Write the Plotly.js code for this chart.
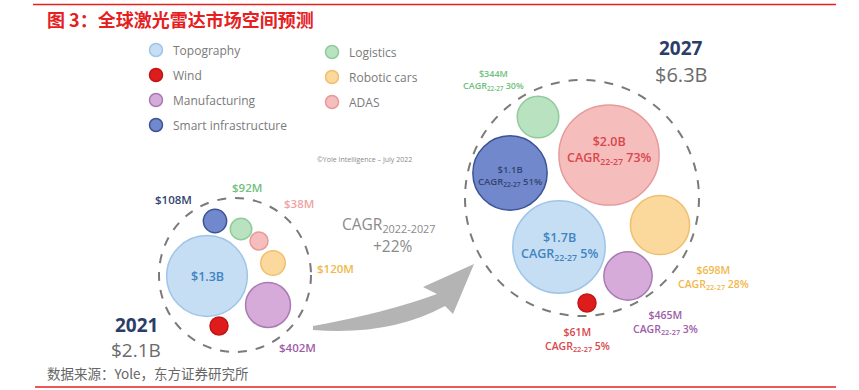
<!DOCTYPE html>
<html>
<head>
<meta charset="utf-8">
<script src="https://cdn.plot.ly/plotly-3.0.1.min.js"></script>
<style>html,body{margin:0;padding:0;background:#fff;}#chart{width:859px;height:390px;}</style>
</head>
<body>
<div id="chart"></div>
<script>
// ---- data ----
const categories = ['Topography','Wind','Manufacturing','Smart infrastructure','Logistics','Robotic cars','ADAS'];
const value2021 = [1300, 45, 402, 108, 92, 120, 38];      // $M (Wind not labelled, estimated)
const value2027 = [1700, 61, 465, 1100, 344, 698, 2000];  // $M
const cagr2227  = [5, 5, 3, 51, 30, 28, 73];               // %
const label2021Shown = [true, false, true, true, true, true, true];
const years = ['2021', '2027'];
const totalB = [2.1, 6.3];
const marketCagr = 22;
const cagrPeriod = '2022-2027';

// ---- layout / style (pixel coordinates) ----
const fillCol   = ['#c5def3','#de1c1c','#d6abd9','#7189cc','#b9e2c0','#fbd89c','#f6bdbd'];
const borderCol = ['#9fc5e8','#c21515','#a97bb3','#3b5397','#90cb9b','#f0bf70','#e69b9b'];
const textCol2021 = ['#3f84c1','#d9474b','#9d5ea9','#34446f','#71c07c','#f2b74a','#f0a3a3'];
const textCol2027 = ['#3f84c1','#d9474b','#9d5ea9','#34446f','#71c07c','#f2b74a','#d9474b'];
const pos2021x = [207, 219, 268, 215, 241, 273, 259];
const pos2021y = [276, 326, 305, 221, 229, 263, 241];
const pos2027x = [559, 587, 628, 510, 538, 660, 609];
const pos2027y = [247, 303, 276, 173, 117, 225, 155];
const lab2021x = [207, 0, 297, 173, 247, 335, 299];
const lab2021y = [276, 0, 347, 199, 187, 268, 203];
const lab2027x = [559, 577, 665, 510, 493, 713, 609];
const lab2027y = [246, 339, 322, 176, 80, 277, 150];
const lab2027size = [12.5, 10.5, 10.5, 9.5, 9, 10.5, 12.5];
const legX = [156, 156, 156, 156, 332, 332, 332];
const legY = [50, 75, 100, 125, 52, 77, 102];

const K = 1.12;
const diam = v => Math.max(18, 2 * K * Math.sqrt(v));
const fmt = v => v >= 1000 ? '$' + (v / 1000).toFixed(1) + 'B' : '$' + v + 'M';
const FONT = 'Open Sans, Lato, sans-serif';

const traces = [
  { type: 'scatter', mode: 'markers', x: pos2021x, y: pos2021y, hoverinfo: 'skip',
    marker: { size: value2021.map(diam), sizemode: 'diameter', color: fillCol,
              line: { color: borderCol, width: 1.5 }, opacity: 1 } },
  { type: 'scatter', mode: 'markers', x: pos2027x, y: pos2027y, hoverinfo: 'skip',
    marker: { size: value2027.map(diam), sizemode: 'diameter', color: fillCol,
              line: { color: borderCol, width: 1.5 }, opacity: 1 } },
  { type: 'scatter', mode: 'markers', x: legX, y: legY, hoverinfo: 'skip',
    marker: { size: 13, color: fillCol, line: { color: borderCol, width: 1.5 } } }
];

const ann = [];
// title & source
ann.push({ x: 45, y: 19, xanchor: 'left', yanchor: 'middle', showarrow: false,
  text: '图 3：全球激光雷达市场空间预测',
  font: { family: 'Noto Sans CJK SC', size: 18, color: '#e5201f', weight: 700 } });
ann.push({ x: 45, y: 373, xanchor: 'left', yanchor: 'middle', showarrow: false,
  text: '数据来源：Yole，东方证券研究所',
  font: { family: 'Noto Sans CJK SC', size: 13.5, color: '#666666' } });
// legend texts
categories.forEach((c, i) => ann.push({ x: legX[i] + 15, y: legY[i], xanchor: 'left', yanchor: 'middle',
  showarrow: false, text: c, font: { family: FONT, size: 12, color: '#7a7a7a', weight: 500 } }));
ann.push({ x: 315, y: 159, xanchor: 'left', yanchor: 'middle', showarrow: false,
  text: '©Yole Intelligence – July 2022', font: { family: FONT, size: 7, color: '#8a8a8a' } });
// 2021 labels
categories.forEach((c, i) => {
  if (!label2021Shown[i]) return;
  ann.push({ x: lab2021x[i], y: lab2021y[i], xanchor: 'center', yanchor: 'middle', showarrow: false,
    text: fmt(value2021[i]), font: { family: FONT, size: i === 0 ? 12.5 : 11.5, color: textCol2021[i], weight: 600 } });
});
// 2027 labels
categories.forEach((c, i) => ann.push({ x: lab2027x[i], y: lab2027y[i], xanchor: 'center', yanchor: 'middle',
  showarrow: false, align: 'center',
  text: fmt(value2027[i]) + '<br>CAGR<sub>22-27</sub> ' + cagr2227[i] + '%',
  font: { family: FONT, size: lab2027size[i], color: textCol2027[i], weight: 600 } }));
// totals
ann.push({ x: 136, y: 325, xanchor: 'center', yanchor: 'middle', showarrow: false, text: years[0],
  font: { family: FONT, size: 19, color: '#2c3d68', weight: 700 } });
ann.push({ x: 136, y: 350, xanchor: 'center', yanchor: 'middle', showarrow: false, text: '$' + totalB[0].toFixed(1) + 'B',
  font: { family: FONT, size: 19, color: '#6b6b6b' } });
ann.push({ x: 681, y: 48, xanchor: 'center', yanchor: 'middle', showarrow: false, text: years[1],
  font: { family: FONT, size: 19, color: '#2c3d68', weight: 700 } });
ann.push({ x: 681, y: 74, xanchor: 'center', yanchor: 'middle', showarrow: false, text: '$' + totalB[1].toFixed(1) + 'B',
  font: { family: FONT, size: 20, color: '#6b6b6b' } });
// market CAGR
ann.push({ x: 340, y: 224, xanchor: 'left', yanchor: 'middle', showarrow: false,
  text: 'CAGR<sub>' + cagrPeriod + '</sub>', font: { family: FONT, size: 15.5, color: '#8a8a8a' } });
ann.push({ x: 393, y: 246, xanchor: 'center', yanchor: 'middle', showarrow: false,
  text: '+' + marketCagr + '%', font: { family: FONT, size: 15.5, color: '#8a8a8a' } });

const shapes = [
  { type: 'line', x0: 33, x1: 836, y0: 4.5, y1: 4.5, line: { color: '#e5201f', width: 1.5 } },
  { type: 'line', x0: 35, x1: 836, y0: 387, y1: 387, line: { color: '#e5201f', width: 1.5 } },
  { type: 'circle', x0: 235 - 76, x1: 235 + 76, y0: 275 - 77, y1: 275 + 77, layer: 'below',
    line: { color: '#7a7a7a', width: 2, dash: 'dash' } },
  { type: 'circle', x0: 582 - 117, x1: 582 + 117, y0: 198 - 118, y1: 198 + 118, layer: 'below',
    line: { color: '#7a7a7a', width: 2, dash: 'dash' } },
  { type: 'path', path: 'M 313 326 Q 385 313 437 294 L 423 287 L 474 264 L 453 314 L 445 306 Q 390 336 313 330 Z',
    fillcolor: '#b4b4b4', line: { width: 0 } }
];

const layout = {
  width: 859, height: 390, margin: { l: 0, r: 0, t: 0, b: 0 },
  paper_bgcolor: '#ffffff', plot_bgcolor: '#ffffff', showlegend: false,
  xaxis: { range: [0, 859], visible: false, fixedrange: true },
  yaxis: { range: [390, 0], visible: false, fixedrange: true },
  annotations: ann, shapes: shapes
};
Plotly.newPlot('chart', traces, layout, { staticPlot: true, displayModeBar: false });
</script>
</body>
</html>
